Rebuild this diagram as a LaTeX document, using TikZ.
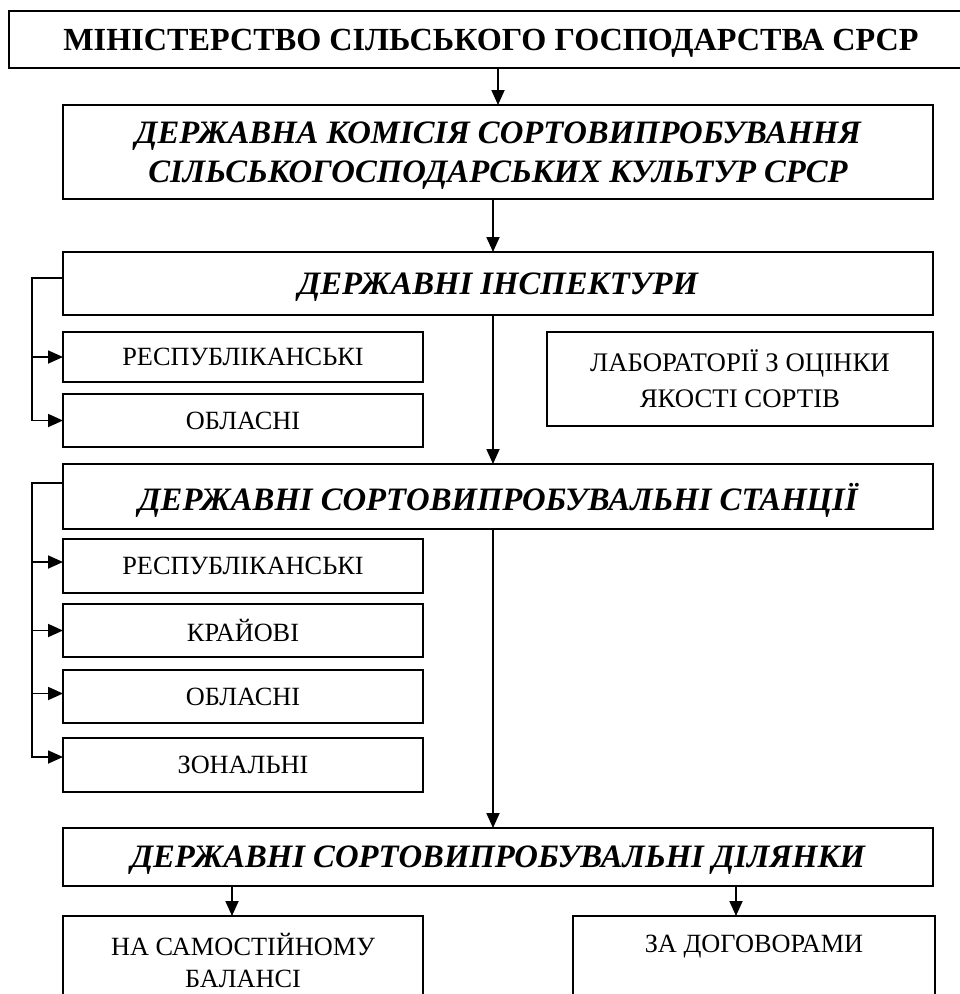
\documentclass[tikz,border=0pt]{standalone}
\usepackage{fontspec}
\setmainfont{Liberation Serif}
\usetikzlibrary{arrows.meta}
\begin{document}
\begin{tikzpicture}[x=1pt,y=-1pt,
  box/.style={draw, line width=1.8pt, inner sep=0pt, outer sep=0pt, align=center},
  top/.style={font=\fontsize{32.2}{38}\selectfont\bfseries, text depth=0pt},
  hd/.style={font=\fontsize{32.7}{39}\selectfont\bfseries\itshape, text depth=0pt},
  sub/.style={font=\fontsize{26.3}{32}\selectfont},
  ln/.style={line width=1.8pt},
  arr/.style={line width=1.8pt, -{Triangle[length=15pt,width=13pt]}}]
\useasboundingbox (0,0) rectangle (960,994);
% main boxes
\node[box, top, minimum width=964pt, minimum height=57pt] (b1) at (491,39.5) {МІНІСТЕРСТВО СІЛЬСЬКОГО ГОСПОДАРСТВА СРСР};
\node[box, hd, minimum width=870pt, minimum height=94pt] (b2) at (498,152) {ДЕРЖАВНА КОМІСІЯ СОРТОВИПРОБУВАННЯ\\СІЛЬСЬКОГОСПОДАРСЬКИХ КУЛЬТУР СРСР};
\node[box, hd, minimum width=870pt, minimum height=63pt] (b3) at (498,283.5) {ДЕРЖАВНІ ІНСПЕКТУРИ};
\node[box, sub, font=\fontsize{26.8}{36}\selectfont, minimum width=386pt, minimum height=94pt] (lab) at (740,379) {ЛАБОРАТОРІЇ З ОЦІНКИ\\ЯКОСТІ СОРТІВ};
\node[box, sub, minimum width=360pt, minimum height=50pt] (r1) at (243,357) {РЕСПУБЛІКАНСЬКІ};
\node[box, sub, minimum width=360pt, minimum height=53pt] (o1) at (243,420.5) {ОБЛАСНІ};
\node[box, hd, minimum width=870pt, minimum height=65pt] (b4) at (498,496.5) {ДЕРЖАВНІ СОРТОВИПРОБУВАЛЬНІ СТАНЦІЇ};
\node[box, sub, minimum width=360pt, minimum height=54pt] (r2) at (243,566) {РЕСПУБЛІКАНСЬКІ};
\node[box, sub, minimum width=360pt, minimum height=53pt] (k2) at (243,630.5) {КРАЙОВІ};
\node[box, sub, minimum width=360pt, minimum height=53pt] (o2) at (243,696.5) {ОБЛАСНІ};
\node[box, sub, minimum width=360pt, minimum height=54pt] (z2) at (243,765) {ЗОНАЛЬНІ};
\node[box, hd, minimum width=870pt, minimum height=58pt] (b5) at (498,857) {ДЕРЖАВНІ СОРТОВИПРОБУВАЛЬНІ ДІЛЯНКИ};
\node[box, sub, minimum width=360pt, minimum height=88pt] (n1) at (243,960) {НА САМОСТІЙНОМУ\\БАЛАНСІ};
\node[box, sub, minimum width=362pt, minimum height=88pt] (n2) at (754,960) {ЗА ДОГОВОРАМИ\\\phantom{БАЛАНСІ}};
% vertical connectors
\draw[arr] (b1.south -| b2.north) -- (b2.north);
\draw[arr] ([xshift=-5pt]b2.south) -- ([xshift=-5pt]b3.north);
\draw[arr] ([xshift=-5pt]b3.south) -- ([xshift=-5pt]b4.north);
\draw[arr] ([xshift=-5pt]b4.south) -- ([xshift=-5pt]b5.north);
\coordinate (c1) at (232,0);
\coordinate (c2) at (736,0);
\draw[arr] (b5.south -| c1) -- (n1.north -| c1);
\draw[arr] (b5.south -| c2) -- (n2.north -| c2);
% brackets
\coordinate (bx) at (32,0);
\draw[arr] ([yshift=5.5pt]b3.west) -| (o1.west -| bx) -- (o1.west);
\draw[arr] (r1.west -| bx) -- (r1.west);
\draw[arr] ([yshift=13.5pt]b4.west) -| ([yshift=8pt]z2.west -| bx) -- ([yshift=8pt]z2.west);
\draw[arr] ([yshift=4pt]r2.west -| bx) -- ([yshift=4pt]r2.west);
\draw[arr] (k2.west -| bx) -- (k2.west);
\draw[arr] ([yshift=3pt]o2.west -| bx) -- ([yshift=3pt]o2.west);
\end{tikzpicture}
\end{document}
